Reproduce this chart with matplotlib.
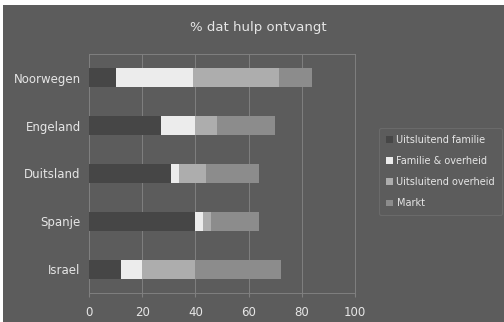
import numpy as np
import matplotlib.pyplot as plt
from matplotlib.patches import Rectangle

countries = ["Noorwegen", "Engeland", "Duitsland", "Spanje", "Israel"]
series = ["Uitsluitend familie", "Familie & overheid", "Uitsluitend overheid", "Markt"]
familie = [10, 27, 31, 40, 12]
fam_overheid = [29, 13, 3, 3, 8]
overheid = [32.5, 8, 10, 3, 20]
markt = [12.5, 22, 20, 18, 32]
xticks = [0, 20, 40, 60, 80, 100]

bg = "#5c5c5c"
colors = ["#464646", "#ececec", "#adadad", "#8c8c8c"]
txt = "#e6e6e6"

fig = plt.figure(figsize=(5.04, 3.22), dpi=100, facecolor=bg)
# thin white edge at top/left like the scan
fig.patches.append(Rectangle((0, 1 - 5/322), 1, 5/322, transform=fig.transFigure,
                             facecolor="white", edgecolor="none"))
fig.patches.append(Rectangle((0, 0), 3/504, 1, transform=fig.transFigure,
                             facecolor="white", edgecolor="none"))

ax = fig.add_axes([89/504, 1 - 293/322, 266/504, (293 - 54)/322])
ax.set_facecolor(bg)

y = np.arange(len(countries))
left = np.zeros(len(countries))
for vals, c, name in zip([familie, fam_overheid, overheid, markt], colors, series):
    ax.barh(y, vals, left=left, height=0.4, color=c, label=name, zorder=3)
    left += np.array(vals)

ax.set_xlim(0, 100)
ax.set_ylim(len(countries) - 0.5, -0.5)
ax.set_xticks(xticks)
ax.set_yticks(y)
ax.set_yticklabels(countries)
ax.grid(axis="x", color="#808080", linewidth=0.7, zorder=1)
for s in ax.spines.values():
    s.set_color("#808080")
    s.set_linewidth(0.7)
ax.tick_params(axis="x", colors="#808080", length=3, labelcolor=txt, labelsize=8.5, pad=6)
ax.tick_params(axis="y", length=0, labelcolor=txt, labelsize=8.5, pad=6)

fig.text(258/504, 1 - 27/322, "% dat hulp ontvangt", ha="center", va="center",
         color=txt, fontsize=9.5)

leg = fig.legend(loc="upper left", bbox_to_anchor=(379/504, 1 - 128/322),
                 frameon=True, fontsize=7, handlelength=0.7, handleheight=0.7,
                 handletextpad=0.4, labelspacing=1.15, borderpad=0.7, borderaxespad=0)
leg.get_frame().set_facecolor(bg)
leg.get_frame().set_edgecolor("#6e6e6e")
leg.get_frame().set_linewidth(0.8)
for t in leg.get_texts():
    t.set_color(txt)

fig.savefig("out.png", dpi=100, facecolor=bg)
